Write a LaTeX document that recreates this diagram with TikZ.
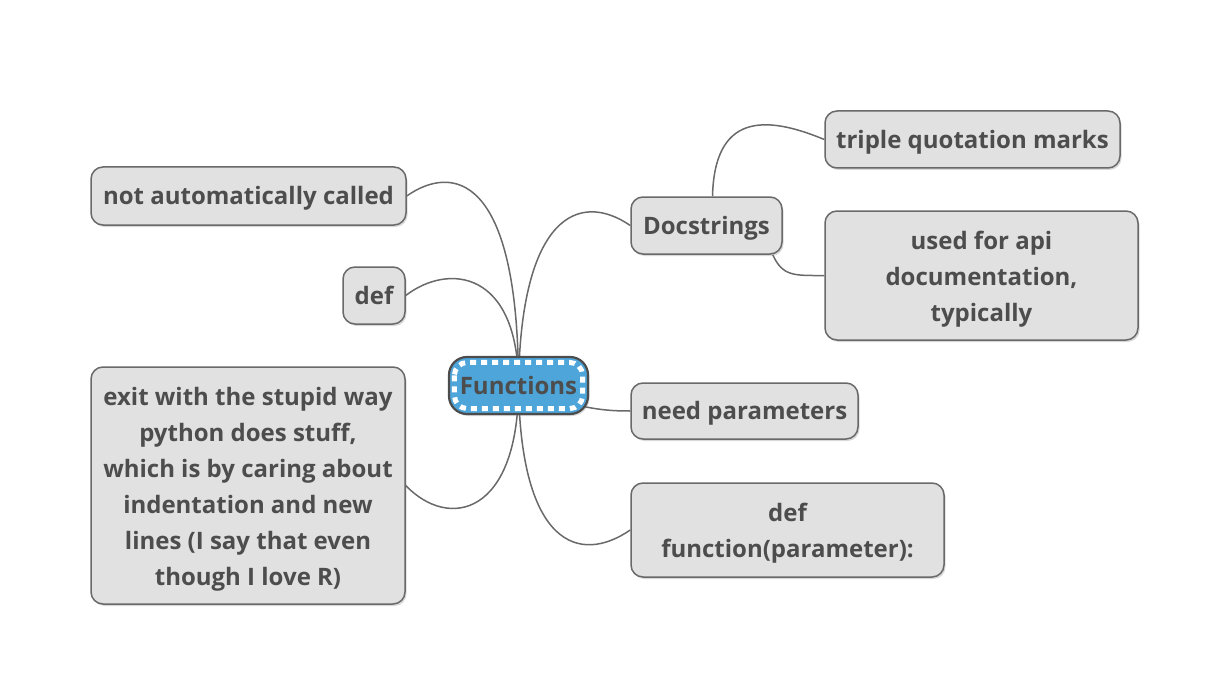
\documentclass[tikz,border=0pt]{standalone}
\usepackage{fontspec}
\setmainfont{Open Sans}
\usetikzlibrary{shadows,backgrounds}
\definecolor{boxgray}{RGB}{225,225,225}
\definecolor{edgegray}{RGB}{105,105,105}
\definecolor{textgray}{RGB}{77,77,77}
\definecolor{funcblue}{RGB}{78,165,218}
\newcommand\boxstrut{\rule[-5pt]{0pt}{28pt}}
\newcommand\topstrut{\rule{0pt}{25pt}}

\begin{document}
\begin{tikzpicture}[x=1pt, y=-1pt,
    topic/.style={draw=edgegray, fill=boxgray, rounded corners=12pt, line width=1.5pt, align=center, text=textgray, font=\fontsize{24}{36}\selectfont\bfseries, inner sep=0pt, execute at begin node=\boxstrut, execute at end node=\boxstrut, drop shadow={shadow xshift=1.5pt, shadow yshift=-2pt, opacity=0.3}},
    multi/.style={topic, execute at begin node={}, execute at end node={}},
    central/.style={topic, fill=funcblue, draw=black!70, rounded corners=18pt, line width=2.2pt},
    link/.style={draw=edgegray, line width=1.5pt}
]
    \useasboundingbox (0,0) rectangle (1208,698);

    \node[central, minimum width=139, minimum height=57] (func) at (518.5,385.5) {Functions};
    \draw[white, line width=5pt, dash pattern=on 6pt off 5pt, rounded corners=13pt] ([shift={(6.5,6.5)}]func.north west) rectangle ([shift={(-6.5,-6.5)}]func.south east);

    \node[topic, minimum width=315, minimum height=58] (notauto) at (248.5,196) {not automatically called};
    \node[topic, minimum width=62, minimum height=57] (defkw) at (374,295.5) {def};
    \node[multi, minimum width=314, minimum height=237] (exit) at (248,485.5) {\topstrut exit with the stupid way\\python does stuff,\\which is by caring about\\indentation and new\\lines (I say that even\\though I love R)};
    \node[topic, minimum width=151, minimum height=57] (docs) at (706.5,225.5) {Docstrings};
    \node[topic, minimum width=295, minimum height=57] (triple) at (972.5,139.5) {triple quotation marks};
    \node[multi, minimum width=313, minimum height=129] (api) at (981.5,275.5) {\topstrut used for api\\documentation,\\typically};
    \node[topic, minimum width=227, minimum height=56] (needp) at (744.5,411) {need parameters};
    \node[multi, minimum width=313, minimum height=94] (deffn) at (787.5,530) {\topstrut def\\function(parameter):};

    \begin{scope}[on background layer]
        \draw[link] (func.center) .. controls +(0,-215) and +(44,-31) .. (notauto.east);
        \draw[link] (func.center) .. controls +(0,-115) and +(43,-33) .. (defkw.east);
        \draw[link] (func.center) .. controls +(0,130) and +(43,45) .. (exit.east);
        \draw[link] (func.center) .. controls +(2,-170) and +(-51,-35) .. (docs.west);
        \draw[link] (func.center) .. controls +(60,25) and +(-20,0) .. (needp.west);
        \draw[link] (func.center) .. controls +(2,160) and +(-51,35) .. (deffn.west);
        \draw[link] ([xshift=6]docs.north) .. controls +(2,-82) and +(-60,-25) .. (triple.west);
        \draw[link] ([xshift=-10]docs.south east) .. controls +(10,22) and +(-30,0) .. (api.west);
    \end{scope}
\end{tikzpicture}
\end{document}
